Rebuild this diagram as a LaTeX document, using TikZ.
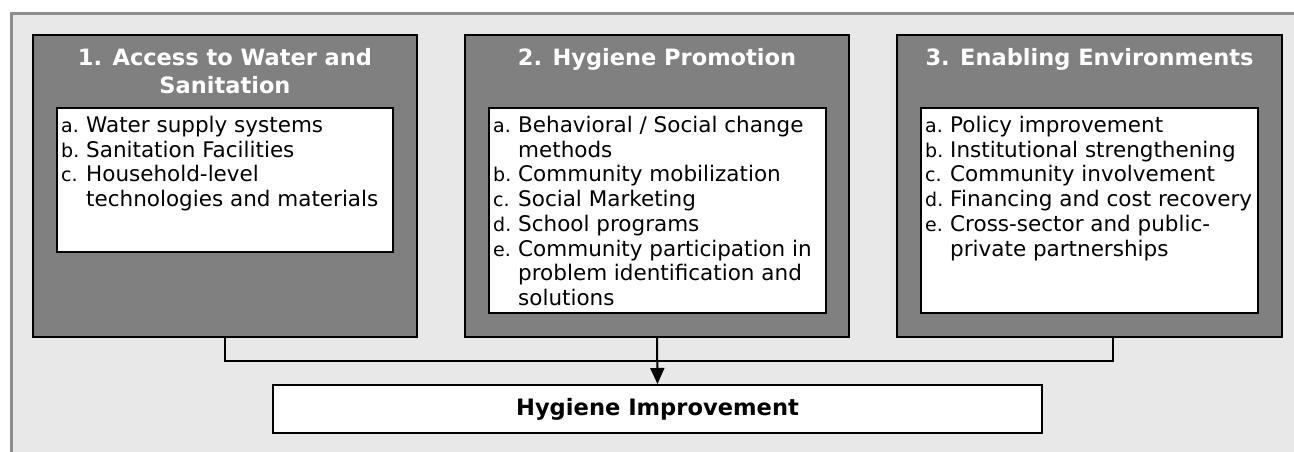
\documentclass[tikz,border=0pt]{standalone}
\usepackage{fontspec}
\setmainfont{DejaVu Sans}
\usetikzlibrary{arrows.meta, positioning}
\definecolor{panelgray}{HTML}{E8E8E8}
\definecolor{rimgray}{HTML}{8C8C8C}
\definecolor{boxgray}{HTML}{808080}
\newcommand{\itm}[1]{\makebox[25pt][l]{\fontsize{19}{24.7}\selectfont #1}}
\newcommand{\cnt}{\hspace*{25pt}}

\begin{document}
\begin{tikzpicture}[x=1pt, y=-1pt,
  area/.style={draw=black, line width=2pt, fill=boxgray, minimum height=302pt, inner sep=0pt},
  list/.style={draw=black, line width=2pt, fill=white, inner sep=0pt},
  head/.style={anchor=north, inner sep=0pt, text=white, align=center, font=\fontsize{22.5}{28}\selectfont\bfseries},
  items/.style={anchor=north west, inner sep=0pt, align=left, font=\fontsize{21.5}{24.7}\selectfont},
  link/.style={line width=2pt}]
\useasboundingbox (0,0) rectangle (1294,452);
\begin{scope}
\clip (0,0) rectangle (1294,452);
\draw[rimgray, fill=panelgray, line width=3pt] (11.5,13.5) rectangle (1310,470);
\end{scope}

\node[area, minimum width=384pt] (access) at (225,186) {};
\node[area, minimum width=384pt] (promo) at (657,186) {};
\node[area, minimum width=385pt] (enable) at (1089.5,186) {};
\node[list, minimum width=336pt, minimum height=144pt] (access-in) at (225,180) {};
\node[list, minimum width=337pt, minimum height=205pt] (promo-in) at (657.5,210.5) {};
\node[list, minimum width=337pt, minimum height=205pt] (enable-in) at (1089.5,210.5) {};

\node[head] (access-head) at ([yshift=-14pt]access.north) {1. Access to Water and\\Sanitation};
\node[head] (promo-head) at ([yshift=-14pt]promo.north) {2. Hygiene Promotion};
\node[head] (enable-head) at ([yshift=-14pt]enable.north) {3. Enabling Environments};

\node[items] (access-list) at ([xshift=5pt,yshift=-9pt]access-in.north west)
  {\itm{a.}Water supply systems\\ \itm{b.}Sanitation Facilities\\ \itm{c.}Household-level\\ \cnt technologies and materials};
\node[items] (promo-list) at ([xshift=5pt,yshift=-9pt]promo-in.north west)
  {\itm{a.}Behavioral / Social change\\ \cnt methods\\ \itm{b.}Community mobilization\\ \itm{c.}Social Marketing\\ \itm{d.}School programs\\ \itm{e.}Community participation in\\ \cnt problem identification and\\ \cnt solutions};
\node[items] (enable-list) at ([xshift=5pt,yshift=-9pt]enable-in.north west)
  {\itm{a.}Policy improvement\\ \itm{b.}Institutional strengthening\\ \itm{c.}Community involvement\\ \itm{d.}Financing and cost recovery\\ \itm{e.}Cross-sector and public-\\ \cnt private partnerships};

\node[list, minimum width=769pt, minimum height=48pt, font=\fontsize{22.6}{26}\selectfont\bfseries] (improve) at (657.5,409) {Hygiene Improvement};

\draw[link] (access.south) -- ++(0,23) -| ([xshift=23.5pt]enable.south);
\draw[link, -{Triangle[length=16pt, width=14pt]}] (promo.south) -- (improve.north);
\end{tikzpicture}
\end{document}
